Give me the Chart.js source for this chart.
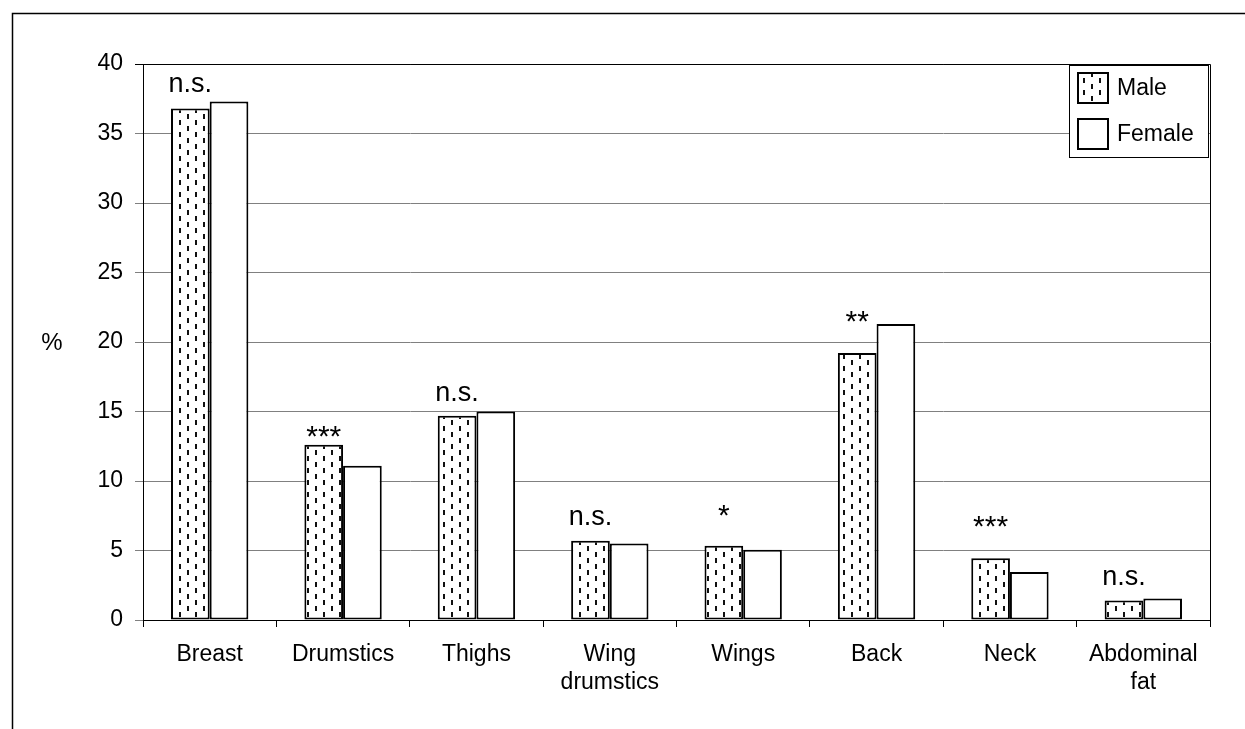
<!DOCTYPE html>
<html>
<head>
<meta charset="utf-8">
<script src="https://cdn.jsdelivr.net/npm/chart.js@4.4.1/dist/chart.umd.min.js"></script>
<style>
  html, body { margin: 0; padding: 0; background: #fff; }
  #wrap { width: 1245px; height: 729px; }
</style>
</head>
<body>
<div id="wrap"><canvas id="chart" width="1245" height="729"></canvas></div>
<script>
// carcass parts, % of carcass
const categories = ['Breast', 'Drumstics', 'Thighs', ['Wing', 'drumstics'], 'Wings', 'Back', 'Neck', ['Abdominal', 'fat']];
const maleValues = [36.8, 12.6, 14.7, 5.7, 5.35, 19.2, 4.45, 1.4];
const femaleValues = [37.3, 11.1, 15.0, 5.5, 5.05, 21.3, 3.45, 1.55];

// significance marks and the level (in %) of their text baseline
const sigMarks = ['n.s.', '***', 'n.s.', 'n.s.', '*', '**', '***', 'n.s.'];
const sigLevels = [37.95, 12.5, 15.75, 6.8, 6.85, 20.8, 6.05, 2.5];

const yTicks = { min: 0, max: 40, step: 5 };
const FONT = '"Liberation Sans", Arial, sans-serif';

// Excel-like "dashed vertical" fill
function dashedPattern() {
    const c = document.createElement('canvas');
    c.width = 16;
    c.height = 12;
    const g = c.getContext('2d');
    g.fillStyle = '#fff';
    g.fillRect(0, 0, 16, 12);
    g.fillStyle = '#111';
    g.fillRect(3, 0, 2, 5);
    g.fillRect(11, 6, 2, 5);
    return g.createPattern(c, 'repeat');
}

const ctx = document.getElementById('chart').getContext('2d');
const malePattern = dashedPattern();

// page frame, plot-area border, % label, significance marks, legend
const decorations = {
    id: 'decorations',
    beforeDraw(chart) {
        const c = chart.ctx;
        c.save();
        c.fillStyle = '#fff';
        c.fillRect(0, 0, chart.width, chart.height);
        c.strokeStyle = '#000';
        c.lineWidth = 1.5;
        c.strokeRect(12.5, 13.5, chart.width + 20, chart.height + 20);
        c.restore();
    },
    afterDraw(chart) {
        const c = chart.ctx;
        const area = chart.chartArea;
        const y = chart.scales.y;
        c.save();

        // plot area border
        c.strokeStyle = '#000';
        c.lineWidth = 1;
        c.beginPath();
        c.moveTo(Math.round(area.left) + 0.5, Math.round(area.top) + 0.5);
        c.lineTo(Math.round(area.right) + 0.5, Math.round(area.top) + 0.5);
        c.lineTo(Math.round(area.right) + 0.5, Math.round(area.bottom) + 0.5);
        c.stroke();

        // y-axis title, horizontal
        c.fillStyle = '#000';
        c.font = '24px ' + FONT;
        c.textAlign = 'center';
        c.textBaseline = 'middle';
        c.fillText('%', 52, 343);

        // significance marks above the male bars
        c.textBaseline = 'alphabetic';
        const bars = chart.getDatasetMeta(0).data;
        sigMarks.forEach((mark, i) => {
            c.font = (mark.startsWith('*') ? '30px ' : '27px ') + FONT;
            c.fillText(mark, bars[i].x, y.getPixelForValue(sigLevels[i]));
        });

        // legend box
        const lx = 1069, ly = 65, lw = 139, lh = 92;
        c.fillStyle = '#fff';
        c.fillRect(lx, ly, lw, lh);
        c.strokeStyle = '#000';
        c.lineWidth = 1;
        c.strokeRect(lx + 0.5, ly + 0.5, lw, lh);
        c.font = '23px ' + FONT;
        c.textAlign = 'left';
        c.textBaseline = 'middle';
        chart.data.datasets.forEach((ds, i) => {
            const sy = ly + 8 + i * 46;
            c.fillStyle = ds.backgroundColor;
            c.fillRect(lx + 9, sy, 30, 30);
            c.lineWidth = 2;
            c.strokeStyle = ds.borderColor;
            c.strokeRect(lx + 9, sy, 30, 30);
            c.fillStyle = '#000';
            c.fillText(ds.label, lx + 48, sy + 16);
        });
        c.restore();
    }
};

new Chart(ctx, {
    type: 'bar',
    data: {
        labels: categories,
        datasets: [
            {
                label: 'Male',
                data: maleValues,
                backgroundColor: malePattern,
                borderColor: '#000',
                borderWidth: 2,
                borderSkipped: false,
            },
            {
                label: 'Female',
                data: femaleValues,
                backgroundColor: '#fff',
                borderColor: '#000',
                borderWidth: 2,
                borderSkipped: false,
            },
        ],
    },
    options: {
        responsive: false,
        animation: false,
        layout: { padding: { top: 64, right: 35, bottom: 0, left: 0 } },
        datasets: {
            bar: { categoryPercentage: 0.58, barPercentage: 1.0 },
        },
        plugins: {
            legend: { display: false },
            tooltip: { enabled: false },
        },
        scales: {
            x: {
                afterFit: (s) => { s.height = 109; },
                grid: {
                    offset: true,
                    drawOnChartArea: false,
                    tickLength: 7,
                    color: '#000',
                },
                border: { color: '#000', width: 1 },
                ticks: {
                    color: '#000',
                    padding: 14,
                    maxRotation: 0,
                    autoSkip: false,
                    font: { family: FONT, size: 23, lineHeight: 1.2 },
                },
            },
            y: {
                min: yTicks.min,
                max: yTicks.max,
                afterFit: (s) => { s.width = 143; },
                grid: {
                    tickLength: 8,
                    color: (c) => (c.tick && c.tick.value === yTicks.max ? '#000' : '#808080'),
                },
                border: { color: '#000', width: 1 },
                ticks: {
                    stepSize: yTicks.step,
                    color: '#000',
                    padding: 12,
                    font: { family: FONT, size: 23 },
                },
            },
        },
    },
    plugins: [decorations],
});
</script>
</body>
</html>
